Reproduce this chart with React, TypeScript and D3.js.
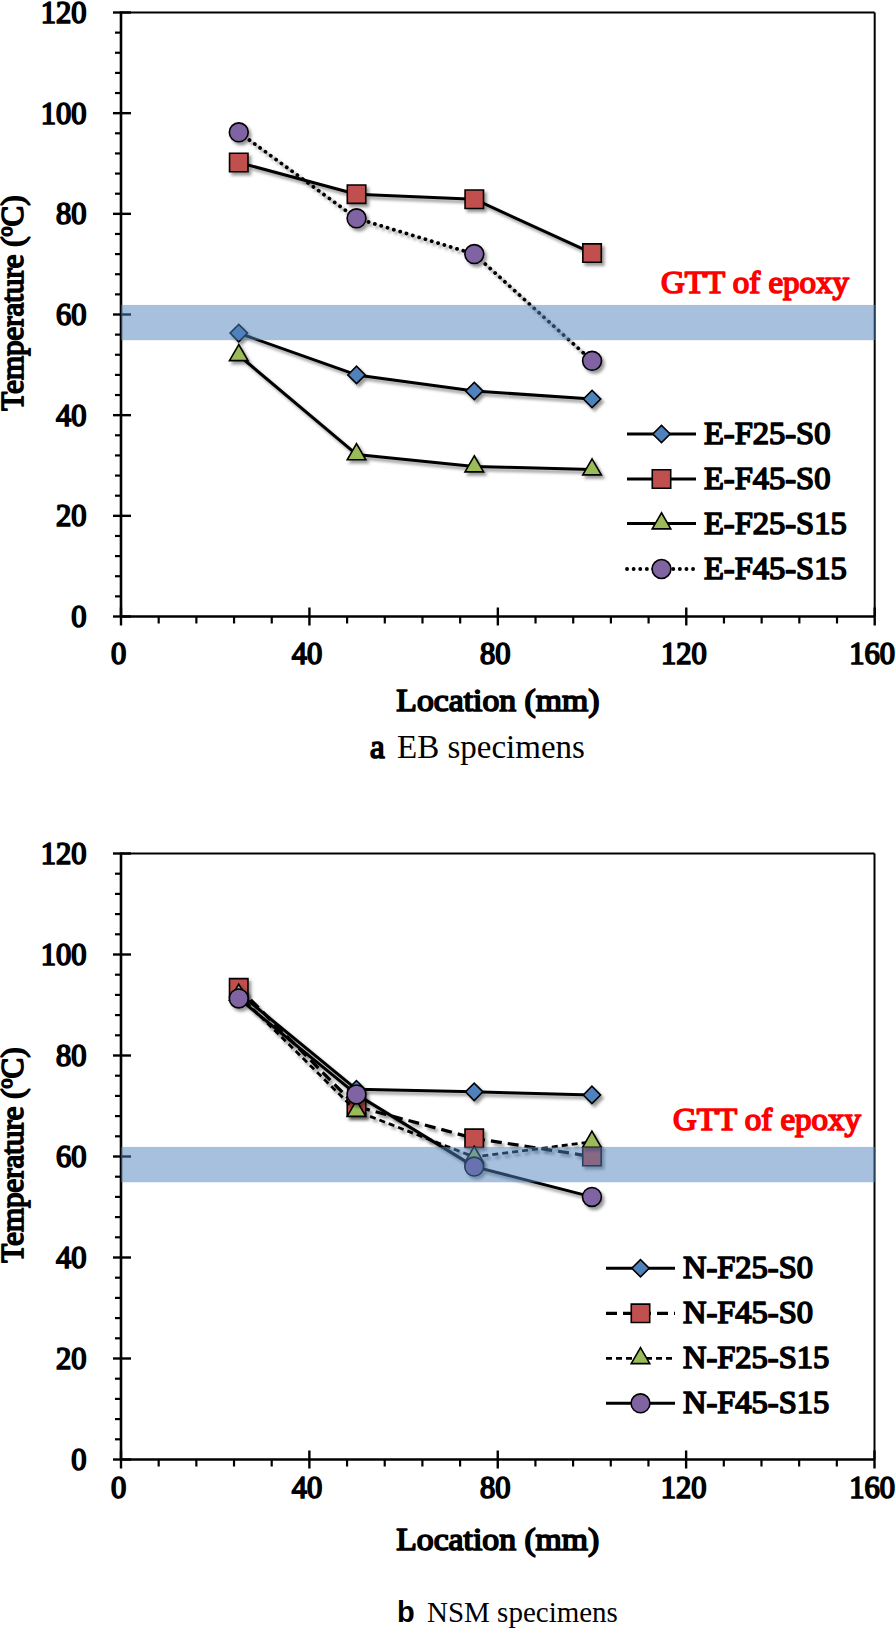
import React from 'react';
import * as d3 from 'd3';

// ---------- data ----------
const locations = [25, 50, 75, 100];

const ebNames = ['E-F25-S0', 'E-F45-S0', 'E-F25-S15', 'E-F45-S15'];
const ebF25S0 = [56.3, 48.0, 44.8, 43.2];
const ebF45S0 = [90.2, 83.9, 82.9, 72.2];
const ebF25S15 = [51.9, 32.2, 29.8, 29.2];
const ebF45S15 = [96.2, 79.1, 72.0, 50.8];

const nsmNames = ['N-F25-S0', 'N-F45-S0', 'N-F25-S15', 'N-F45-S15'];
const nsmF25S0 = [92.4, 73.3, 72.8, 72.2];
const nsmF45S0 = [93.4, 69.9, 63.6, 60.0];
const nsmF25S15 = [92.0, 69.0, 59.9, 62.9];
const nsmF45S15 = [91.3, 72.3, 58.0, 52.0];

const xTicks = [0, 40, 80, 120, 160];
const yTicks = [0, 20, 40, 60, 80, 100, 120];
const gttBand = [54.9, 61.9];
const gttLabel = 'GTT of epoxy';
const xTitle = 'Location (mm)';

// ---------- styles ----------
const FONT = '"Liberation Serif", "Times New Roman", Times, serif';
type Sym = 'diamond' | 'square' | 'triangle' | 'circle';
type Style = { symbol: Sym; fill: string; dash: string | null; width: number; round?: boolean };

const ebStyles: Style[] = [
  { symbol: 'diamond', fill: '#4F81BD', dash: null, width: 3 },
  { symbol: 'square', fill: '#C0504D', dash: null, width: 3 },
  { symbol: 'triangle', fill: '#9BBB59', dash: null, width: 3 },
  { symbol: 'circle', fill: '#8064A2', dash: '0.1 6.5', width: 3.8, round: true },
];
const nsmStyles: Style[] = [
  { symbol: 'diamond', fill: '#4F81BD', dash: null, width: 3 },
  { symbol: 'square', fill: '#C0504D', dash: '11 6', width: 3.2 },
  { symbol: 'triangle', fill: '#9BBB59', dash: '6 4', width: 2.8 },
  { symbol: 'circle', fill: '#8064A2', dash: null, width: 3 },
];

function symPath(kind: Sym): string {
  switch (kind) {
    case 'diamond':
      return d3.symbol(d3.symbolSquare, 150)() as string;
    case 'square':
      return d3.symbol(d3.symbolSquare, 340)() as string;
    case 'triangle':
      return d3.symbol(d3.symbolTriangle, 150)() as string;
    default:
      return d3.symbol(d3.symbolCircle, 280)() as string;
  }
}

// bold-looking serif text (regular face thickened by a stroke)
function BText(props: any) {
  const { color = '#000', sw = 1.7, children, ...rest } = props;
  return (
    <text
      fontFamily={FONT}
      fill={color}
      stroke={color}
      strokeWidth={sw}
      strokeLinejoin="round"
      {...rest}
    >
      {children}
    </text>
  );
}

type PanelProps = {
  id: string;
  left: number;
  right: number;
  top: number;
  bottom: number;
  series: number[][];
  names: string[];
  styles: Style[];
  legendX: number;
  legendRows: number[];
  gttX: number;
  gttY: number;
  tickLabelDy: number;
  titleDy: number;
  yLabelCy: number;
  caption: { letter: string; text: string; letterX: number; textX: number; y: number; sans: boolean; size: number };
};

function Panel(p: PanelProps) {
  const x = d3.scaleLinear().domain([0, 160]).range([p.left, p.right]);
  const y = d3.scaleLinear().domain([0, 120]).range([p.bottom, p.top]);
  const line = d3
    .line<number>()
    .x((_, i) => x(locations[i]))
    .y((d) => y(d));
  const yMinor = d3.range(0, 121, 4).filter((v) => v % 20 !== 0);
  const xMinor = d3.range(0, 161, 8).filter((v) => v % 40 !== 0);

  const marker = (s: Style, cx: number, cy: number, key: string | number) => (
    <path
      key={key}
      d={symPath(s.symbol)}
      transform={`translate(${cx},${cy})${s.symbol === 'diamond' ? ' rotate(45)' : ''}`}
      fill={s.fill}
      stroke="#000"
      strokeWidth={1.6}
    />
  );

  return (
    <g>
      {/* frame */}
      <line x1={p.left} x2={p.right} y1={p.top} y2={p.top} stroke="#000" strokeWidth={2} />
      <line x1={p.right} x2={p.right} y1={p.top} y2={p.bottom} stroke="#000" strokeWidth={2} />
      {/* axes */}
      <line x1={p.left} x2={p.left} y1={p.top - 1} y2={p.bottom} stroke="#000" strokeWidth={2.6} />
      <line x1={p.left} x2={p.right} y1={p.bottom} y2={p.bottom} stroke="#000" strokeWidth={2.6} />
      {yTicks.map((v) => (
        <line key={'ym' + v} x1={p.left - 8} x2={p.left + 10} y1={y(v)} y2={y(v)} stroke="#000" strokeWidth={2.4} />
      ))}
      {yMinor.map((v) => (
        <line key={'yn' + v} x1={p.left - 6} x2={p.left} y1={y(v)} y2={y(v)} stroke="#000" strokeWidth={2.2} />
      ))}
      {xTicks.map((v) => (
        <line key={'xm' + v} x1={x(v)} x2={x(v)} y1={p.bottom - 9} y2={p.bottom + 9} stroke="#000" strokeWidth={2.4} />
      ))}
      {xMinor.map((v) => (
        <line key={'xn' + v} x1={x(v)} x2={x(v)} y1={p.bottom} y2={p.bottom + 7} stroke="#000" strokeWidth={2.2} />
      ))}
      {yTicks.map((v) => (
        <BText key={'yl' + v} x={p.left - 34.5} y={y(v) + 10.5} textAnchor="end" fontSize={30.5}>
          {v}
        </BText>
      ))}
      {xTicks.map((v) => (
        <BText key={'xl' + v} x={x(v) - 2.5} y={p.bottom + p.tickLabelDy} textAnchor="middle" fontSize={30.5}>
          {v}
        </BText>
      ))}
      <BText
        x={(p.left + p.right) / 2}
        y={p.bottom + p.titleDy}
        textAnchor="middle"
        fontSize={32}
        textLength={203}
        lengthAdjust="spacingAndGlyphs"
      >
        {xTitle}
      </BText>
      <BText transform={`translate(23,${p.yLabelCy}) rotate(-90)`} textAnchor="middle" fontSize={31}>
        Temperature (<tspan fontSize={20} dy={-11}>o</tspan>
        <tspan dy={11}>C)</tspan>
      </BText>

      {/* series */}
      {p.series.map((vals, si) => {
        const s = p.styles[si];
        return (
          <g key={'s' + si} filter={`url(#${p.id}-shadow)`}>
            <path
              d={line(vals) as string}
              fill="none"
              stroke="#000"
              strokeWidth={s.width}
              strokeDasharray={s.dash ?? undefined}
              strokeLinecap={s.round ? 'round' : 'butt'}
              strokeLinejoin="round"
            />
            {vals.map((v, i) => marker(s, x(locations[i]), y(v), i))}
          </g>
        );
      })}

      {/* GTT band drawn over the data, semi-transparent */}
      <rect
        x={p.left}
        width={p.right - p.left + 1}
        y={y(gttBand[1])}
        height={y(gttBand[0]) - y(gttBand[1])}
        fill="#4F81BD"
        fillOpacity={0.5}
      />
      <BText
        x={p.gttX}
        y={p.gttY}
        textAnchor="end"
        fontSize={32}
        color="#FF0000"
        textLength={188}
        lengthAdjust="spacingAndGlyphs"
      >
        {gttLabel}
      </BText>

      {/* legend */}
      {p.names.map((n, i) => {
        const s = p.styles[i];
        const ry = p.legendRows[i];
        return (
          <g key={'lg' + i}>
            <line
              x1={p.legendX}
              x2={p.legendX + 69}
              y1={ry}
              y2={ry}
              stroke="#000"
              strokeWidth={s.width}
              strokeDasharray={s.dash ?? undefined}
              strokeLinecap={s.round ? 'round' : 'butt'}
            />
            {marker(s, p.legendX + 34.5, ry, 'm')}
            <BText x={p.legendX + 77} y={ry + 10} fontSize={32.5}>
              {n}
            </BText>
          </g>
        );
      })}

      {/* caption */}
      {p.caption.sans ? (
        <text
          x={p.caption.letterX}
          y={p.caption.y}
          fontFamily='"Liberation Sans", Arial, sans-serif'
          fontWeight={700}
          fontSize={p.caption.size}
        >
          {p.caption.letter}
        </text>
      ) : (
        <BText x={p.caption.letterX} y={p.caption.y} fontSize={p.caption.size}>
          {p.caption.letter}
        </BText>
      )}
      <text x={p.caption.textX} y={p.caption.y} fontFamily={FONT} fontSize={p.caption.size}>
        {p.caption.text}
      </text>
    </g>
  );
}

export default function App() {
  return (
    <svg
      width={896}
      height={1629}
      viewBox="0 0 896 1629"
      style={{ position: 'absolute', left: 0, top: 0, background: '#fff', display: 'block' }}
    >
      <defs>
        {['top', 'bot'].map((id) => (
          <filter key={id} id={`${id}-shadow`} x="-10%" y="-10%" width="130%" height="130%">
            <feDropShadow dx={2.5} dy={3} stdDeviation={1.8} floodColor="#000" floodOpacity={0.4} />
          </filter>
        ))}
      </defs>
      <rect x={0} y={0} width={896} height={1629} fill="#fff" />
      <Panel
        id="top"
        left={121}
        right={874.7}
        top={12.5}
        bottom={616.5}
        series={[ebF25S0, ebF45S0, ebF25S15, ebF45S15]}
        names={ebNames}
        styles={ebStyles}
        legendX={627}
        legendRows={[434, 479, 523.5, 569]}
        gttX={849}
        gttY={293}
        tickLabelDy={47}
        titleDy={94}
        yLabelCy={303}
        caption={{ letter: 'a', text: 'EB specimens', letterX: 370, textX: 397, y: 758, sans: false, size: 33 }}
      />
      <Panel
        id="bot"
        left={121}
        right={874.5}
        top={853.5}
        bottom={1459.5}
        series={[nsmF25S0, nsmF45S0, nsmF25S15, nsmF45S15]}
        names={nsmNames}
        styles={nsmStyles}
        legendX={606}
        legendRows={[1268.3, 1313.3, 1358.3, 1403.3]}
        gttX={861}
        gttY={1130}
        tickLabelDy={38.5}
        titleDy={90.5}
        yLabelCy={1155}
        caption={{ letter: 'b', text: 'NSM specimens', letterX: 397, textX: 427, y: 1622, sans: true, size: 29 }}
      />
    </svg>
  );
}
